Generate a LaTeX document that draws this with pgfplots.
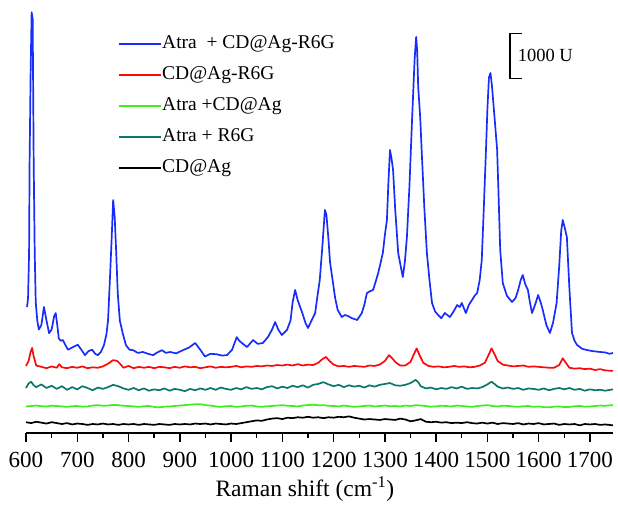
\documentclass[border=0pt]{standalone}
\usepackage{pgfplots}
\pgfplotsset{compat=1.18}
\usepackage{fontspec}
\setmainfont{Liberation Serif}

\definecolor{cblue}{RGB}{25,45,250}
\definecolor{cred}{RGB}{250,10,10}
\definecolor{cgreen}{RGB}{60,240,30}
\definecolor{cteal}{RGB}{10,120,110}

\begin{document}
\begin{tikzpicture}
\begin{axis}[
  scale only axis,
  width=587pt, height=423pt,
  xmin=600, xmax=1745,
  ymin=0, ymax=9400,
  hide y axis,
  axis x line*=bottom,
  x axis line style={-, line width=1.4pt},
  xtick distance=100,
  minor x tick num=1,
  tick align=outside,
  major tick length=9pt,
  minor tick length=5pt,
  every tick/.style={black, line width=1.4pt},
  xticklabel style={font=\fontsize{23}{26}\selectfont, yshift=-7pt},
  /pgf/number format/assume math mode=true,
  /pgf/number format/1000 sep={},
  xlabel={Raman shift (cm\textsuperscript{-1})},
  xlabel style={font=\fontsize{23.5}{27}\selectfont, at={(axis description cs:0.475,0)}, anchor=north, yshift=-40pt},
  clip=false,
  legend cell align=left,
  legend image code/.code={\draw[#1, line width=2pt] (0pt,0pt) -- (42pt,0pt);},
  legend style={at={(axis description cs:0.1567,0.941)}, anchor=north west,
    draw=none, fill=none, inner sep=0pt, row sep=14pt,
    font=\fontsize{19.5}{23}\selectfont,
    nodes={inner sep=0pt, text height=13pt, text depth=4pt},
    /tikz/every even column/.append style={column sep=9pt}},
  every axis plot/.append style={line width=1.7pt, line join=round},
]

% Atra + CD@Ag-R6G
\addplot[cblue] coordinates {
(602,2800)(604,3000)(606,4000)(607,6000)(609,8000)(611,9350)(613,9200)(615,6000)
(617,4000)(619,2900)(622,2500)(625,2300)(630,2400)(635,2800)(640,2500)(645,2220)
(650,2300)(655,2600)(658,2666)(661,2400)(664,2100)(668,2050)(672,2066)(677,1950)
(682,1850)(690,1900)(701,1960)(708,1850)(715,1730)(722,1820)(729,1850)(735,1760)
(740,1730)(746,1800)(752,1950)(757,2200)(760,2500)(764,3500)(767,4300)(770,5177)
(773,4800)(776,4000)(779,3100)(783,2500)(789,2200)(795,1950)(802,1850)(809,1840)
(818,1780)(828,1800)(838,1760)(848,1730)(856,1790)(865,1840)(873,1780)(881,1800)
(893,1770)(906,1840)(918,1900)(930,2000)(940,1850)(949,1700)(960,1760)(972,1750)
(982,1720)(992,1730)(1002,1850)(1011,2130)(1016,2050)(1021,2000)(1031,1910)(1043,2066)
(1052,1980)(1062,2000)(1072,2133)(1080,2300)(1086,2466)(1092,2300)(1099,2178)(1109,2289)
(1116,2500)(1120,2900)(1125,3178)(1130,2950)(1139,2666)(1145,2450)(1150,2333)(1157,2500)
(1164,2666)(1168,3000)(1173,3400)(1178,4133)(1183,4955)(1186,4850)(1190,4300)(1193,3800)
(1198,3400)(1203,3000)(1208,2733)(1216,2578)(1222,2622)(1228,2600)(1236,2550)(1246,2511)
(1255,2666)(1260,2850)(1265,3111)(1271,3150)(1277,3178)(1283,3400)(1287,3555)(1292,3800)
(1296,4000)(1300,4400)(1304,4733)(1307,5600)(1310,6289)(1313,6100)(1316,5844)(1320,5000)
(1326,4000)(1331,3700)(1335,3466)(1339,3800)(1343,4355)(1348,5500)(1353,6955)(1358,8300)
(1361,8800)(1363,8500)(1365,7689)(1369,7000)(1372,6222)(1377,5000)(1382,4000)(1387,3400)
(1392,2889)(1398,2700)(1404,2622)(1410,2550)(1417,2666)(1422,2620)(1427,2578)(1434,2700)
(1441,2844)(1446,2800)(1450,2889)(1455,2750)(1458,2666)(1464,2850)(1470,2955)(1475,3050)
(1480,3111)(1485,3400)(1489,3844)(1493,5000)(1497,6222)(1500,7200)(1503,7900)(1506,8000)
(1509,7700)(1514,7000)(1519,6289)(1522,5200)(1525,4066)(1530,3333)(1538,3050)(1548,2911)
(1555,3000)(1560,3178)(1565,3400)(1569,3511)(1574,3300)(1579,3178)(1583,2900)(1587,2666)
(1593,2850)(1599,3066)(1604,2900)(1608,2733)(1615,2400)(1622,2222)(1628,2450)(1635,2889)
(1640,3700)(1644,4500)(1647,4733)(1650,4600)(1655,4355)(1660,3200)(1665,2222)(1670,2050)
(1675,1955)(1685,1870)(1694,1844)(1705,1820)(1720,1800)(1730,1790)(1738,1760)(1745,1778)
};
\addlegendentry{Atra\ \ + CD@Ag-R6G}

% CD@Ag-R6G
\addplot[cred] coordinates {
(600,1490)(605,1600)(609,1800)(612,1890)(615,1700)(620,1500)(630,1470)(640,1440)
(650,1480)(660,1450)(665,1530)(670,1460)(680,1440)(690,1470)(700,1450)(710,1480)
(720,1440)(730,1460)(740,1450)(750,1480)(760,1540)(770,1620)(778,1600)(785,1520)
(790,1450)(800,1490)(810,1440)(820,1470)(830,1450)(840,1470)(850,1440)(860,1470)
(870,1460)(880,1440)(890,1470)(900,1450)(910,1480)(920,1460)(930,1470)(940,1440)
(950,1460)(960,1480)(970,1450)(980,1470)(990,1460)(1000,1470)(1010,1490)(1020,1460)
(1030,1480)(1040,1470)(1050,1490)(1060,1480)(1070,1500)(1080,1490)(1090,1510)(1100,1500)
(1110,1520)(1120,1500)(1130,1530)(1140,1500)(1150,1520)(1160,1510)(1170,1560)(1178,1640)
(1185,1690)(1192,1600)(1200,1520)(1210,1480)(1220,1490)(1230,1470)(1240,1490)(1250,1480)
(1260,1470)(1270,1500)(1280,1490)(1290,1520)(1300,1600)(1308,1730)(1315,1650)(1322,1560)
(1330,1500)(1340,1500)(1350,1580)(1357,1760)(1362,1880)(1368,1720)(1375,1560)(1385,1490)
(1395,1470)(1405,1480)(1415,1460)(1425,1470)(1435,1490)(1445,1470)(1455,1480)(1465,1460)
(1475,1470)(1485,1500)(1495,1560)(1503,1750)(1508,1880)(1514,1750)(1520,1600)(1530,1520)
(1540,1500)(1550,1480)(1560,1490)(1570,1500)(1580,1470)(1590,1480)(1600,1470)(1610,1460)
(1620,1450)(1630,1450)(1640,1510)(1647,1660)(1653,1560)(1660,1450)(1670,1430)(1680,1440)
(1690,1420)(1700,1430)(1710,1400)(1720,1420)(1730,1390)(1745,1380)
};
\addlegendentry{CD@Ag-R6G}

% Atra + CD@Ag
\addplot[cgreen] coordinates {
(600,590)(610,600)(620,610)(630,595)(640,590)(650,605)(660,600)(670,590)(680,580)
(690,595)(700,600)(710,585)(720,590)(730,610)(740,620)(750,605)(760,610)(770,625)
(780,620)(790,605)(800,600)(810,590)(820,580)(830,595)(840,600)(850,580)(860,570)
(870,585)(880,590)(890,600)(900,610)(910,620)(920,630)(930,640)(940,640)(950,620)
(960,610)(970,590)(980,580)(990,595)(1000,600)(1010,580)(1020,590)(1030,605)(1040,610)
(1050,590)(1060,580)(1070,595)(1080,600)(1090,610)(1100,620)(1110,605)(1120,600)
(1130,590)(1140,610)(1150,620)(1160,630)(1170,615)(1180,620)(1190,605)(1200,600)
(1210,590)(1220,610)(1230,595)(1240,580)(1250,590)(1260,600)(1270,610)(1280,590)
(1290,600)(1300,610)(1310,595)(1320,600)(1330,590)(1340,610)(1350,600)(1360,620)
(1370,610)(1380,600)(1390,585)(1400,590)(1410,605)(1420,600)(1430,590)(1440,610)
(1450,600)(1460,590)(1470,580)(1480,600)(1490,610)(1500,620)(1510,600)(1520,590)
(1530,605)(1540,600)(1550,590)(1560,580)(1570,595)(1580,600)(1590,580)(1600,590)
(1610,575)(1620,570)(1630,585)(1640,590)(1650,575)(1660,580)(1670,595)(1680,600)
(1690,585)(1700,590)(1710,600)(1720,610)(1730,605)(1745,620)
};
\addlegendentry{Atra +CD@Ag}

% Atra + R6G
\addplot[cteal] coordinates {
(600,1000)(605,1100)(610,1140)(615,1060)(620,1020)(630,1080)(640,1000)(650,1050)
(660,980)(670,1040)(680,960)(690,1020)(700,970)(710,1040)(720,1000)(730,950)
(740,1010)(750,980)(760,1020)(770,1070)(780,1040)(790,990)(800,960)(810,1000)
(820,950)(830,990)(840,940)(850,970)(860,950)(870,990)(880,940)(890,980)
(900,960)(910,930)(920,980)(930,950)(940,990)(950,960)(960,1000)(970,960)
(980,1010)(990,980)(1000,960)(1010,1000)(1020,970)(1030,1020)(1040,980)(1050,1000)
(1060,970)(1070,1020)(1080,1040)(1090,990)(1100,1030)(1110,1000)(1120,1050)(1130,1020)
(1140,1060)(1150,1010)(1160,1070)(1170,1090)(1180,1130)(1190,1080)(1200,1040)(1210,1070)
(1220,1020)(1230,1060)(1240,1030)(1250,1050)(1260,1010)(1270,1060)(1280,1030)(1290,1070)
(1300,1090)(1310,1110)(1320,1060)(1330,1050)(1340,1070)(1350,1110)(1360,1180)(1365,1130)
(1370,1040)(1380,990)(1390,1010)(1400,970)(1410,1000)(1420,980)(1430,1020)(1440,990)
(1450,1030)(1460,980)(1470,1000)(1480,990)(1490,1020)(1500,1080)(1508,1140)(1515,1080)
(1520,1030)(1530,990)(1540,1010)(1550,980)(1560,1000)(1570,960)(1580,990)(1590,980)
(1600,960)(1610,990)(1620,950)(1630,980)(1640,1000)(1650,970)(1660,1000)(1670,960)
(1680,980)(1690,940)(1700,970)(1710,950)(1720,960)(1730,940)(1745,970)
};
\addlegendentry{Atra + R6G}

% CD@Ag
\addplot[black] coordinates {
(600,240)(610,220)(620,250)(630,230)(640,210)(650,240)(660,220)(670,200)(680,220)
(690,190)(700,210)(710,200)(720,180)(730,200)(740,190)(750,210)(760,190)(770,200)
(780,180)(790,200)(800,190)(810,200)(820,180)(830,200)(840,190)(850,180)(860,200)
(870,190)(880,180)(890,200)(900,190)(910,200)(920,190)(930,210)(940,200)(950,210)
(960,190)(970,210)(980,200)(990,190)(1000,210)(1010,200)(1020,220)(1030,240)(1040,260)
(1050,280)(1060,270)(1070,300)(1080,320)(1090,330)(1100,310)(1110,340)(1120,330)
(1130,350)(1140,340)(1150,360)(1160,340)(1170,350)(1180,330)(1190,350)(1200,340)
(1210,360)(1220,350)(1230,370)(1240,340)(1250,320)(1260,300)(1270,310)(1280,300)
(1290,290)(1300,310)(1310,300)(1320,290)(1330,320)(1340,300)(1350,260)(1360,280)
(1370,310)(1380,250)(1390,240)(1400,250)(1410,230)(1420,240)(1430,220)(1440,230)
(1450,220)(1460,240)(1470,220)(1480,210)(1490,230)(1500,210)(1510,230)(1520,200)
(1530,220)(1540,210)(1550,200)(1560,220)(1570,190)(1580,210)(1590,200)(1600,220)
(1610,190)(1620,200)(1630,210)(1640,180)(1650,200)(1660,190)(1670,200)(1680,170)
(1690,200)(1700,190)(1710,200)(1720,180)(1730,190)(1745,170)
};
\addlegendentry{CD@Ag}

% scale bar
\draw[line width=1.4pt] (axis cs:1567,8880) -- (axis cs:1544,8880) -- (axis cs:1544,7880) -- (axis cs:1567,7880);
\node[anchor=west, inner sep=0pt, font=\fontsize{18.5}{22}\selectfont] at (axis cs:1559,8380) {1000 U};
\end{axis}
\path ([shift={(-26pt,-71pt)}]current axis.south west) rectangle ([shift={(5pt,10pt)}]current axis.north east);
\end{tikzpicture}
\end{document}
